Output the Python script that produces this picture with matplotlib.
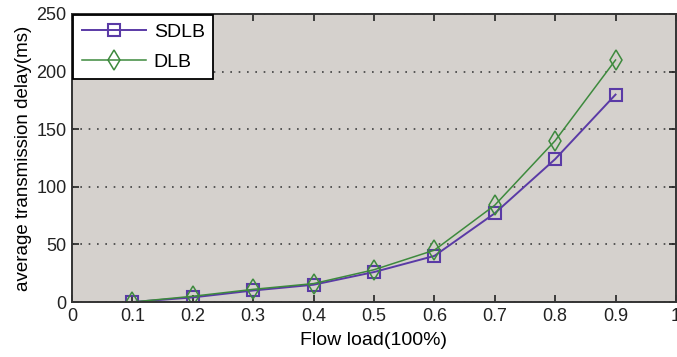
import matplotlib
matplotlib.use("Agg")
from matplotlib import pyplot as plt

load = [0.1, 0.2, 0.3, 0.4, 0.5, 0.6, 0.7, 0.8, 0.9]
sdlb = [0, 4, 10, 15, 26, 40, 77, 124, 180]
dlb = [0, 5, 11, 16, 28, 45, 84, 140, 210]
x_ticks = [0, 0.1, 0.2, 0.3, 0.4, 0.5, 0.6, 0.7, 0.8, 0.9, 1]
x_tick_labels = ['0', '0.1', '0.2', '0.3', '0.4', '0.5', '0.6', '0.7', '0.8', '0.9', '1']
y_ticks = [0, 50, 100, 150, 200, 250]

plt.rcParams['font.family'] = ['Liberation Sans', 'DejaVu Sans']

fig = plt.figure(figsize=(6.77, 3.57), dpi=100)
ax = fig.add_axes([0.1064, 0.154, 0.892, 0.807])
ax.set_facecolor('#d5d1cd')

ax.plot(load, sdlb, color='#5a3aa6', lw=1.4, marker='s', markersize=8.5,
        markerfacecolor='none', markeredgewidth=1.5, label='SDLB')
ax.plot(load, dlb, color='#3d8a3d', lw=1.1, marker='d', markersize=10,
        markerfacecolor='none', markeredgewidth=1.1, label='DLB')

ax.set_xlim(0, 1)
ax.set_ylim(0, 250)
ax.set_xticks(x_ticks)
ax.set_xticklabels(x_tick_labels)
ax.set_yticks(y_ticks)
ax.yaxis.grid(True, linestyle=(0, (1, 4)), color='#404040', lw=1.2)
ax.tick_params(direction='in', top=True, right=True, labelsize=13, length=5,
               width=1.2, colors='#222222', pad=4)
for s in ax.spines.values():
    s.set_linewidth(1.4)
    s.set_color('#333333')

ax.set_xlabel('Flow load(100%)', fontsize=14, labelpad=5)
ax.set_ylabel('average transmission delay(ms)', fontsize=13.5, labelpad=3)

leg = ax.legend(loc='upper left', fontsize=14, fancybox=False, framealpha=1,
                edgecolor='black', borderaxespad=0.05, handlelength=3.3,
                borderpad=0.45, labelspacing=0.6, handletextpad=0.4)
leg.get_frame().set_linewidth(1.3)

fig.savefig('out.png', dpi=100)
